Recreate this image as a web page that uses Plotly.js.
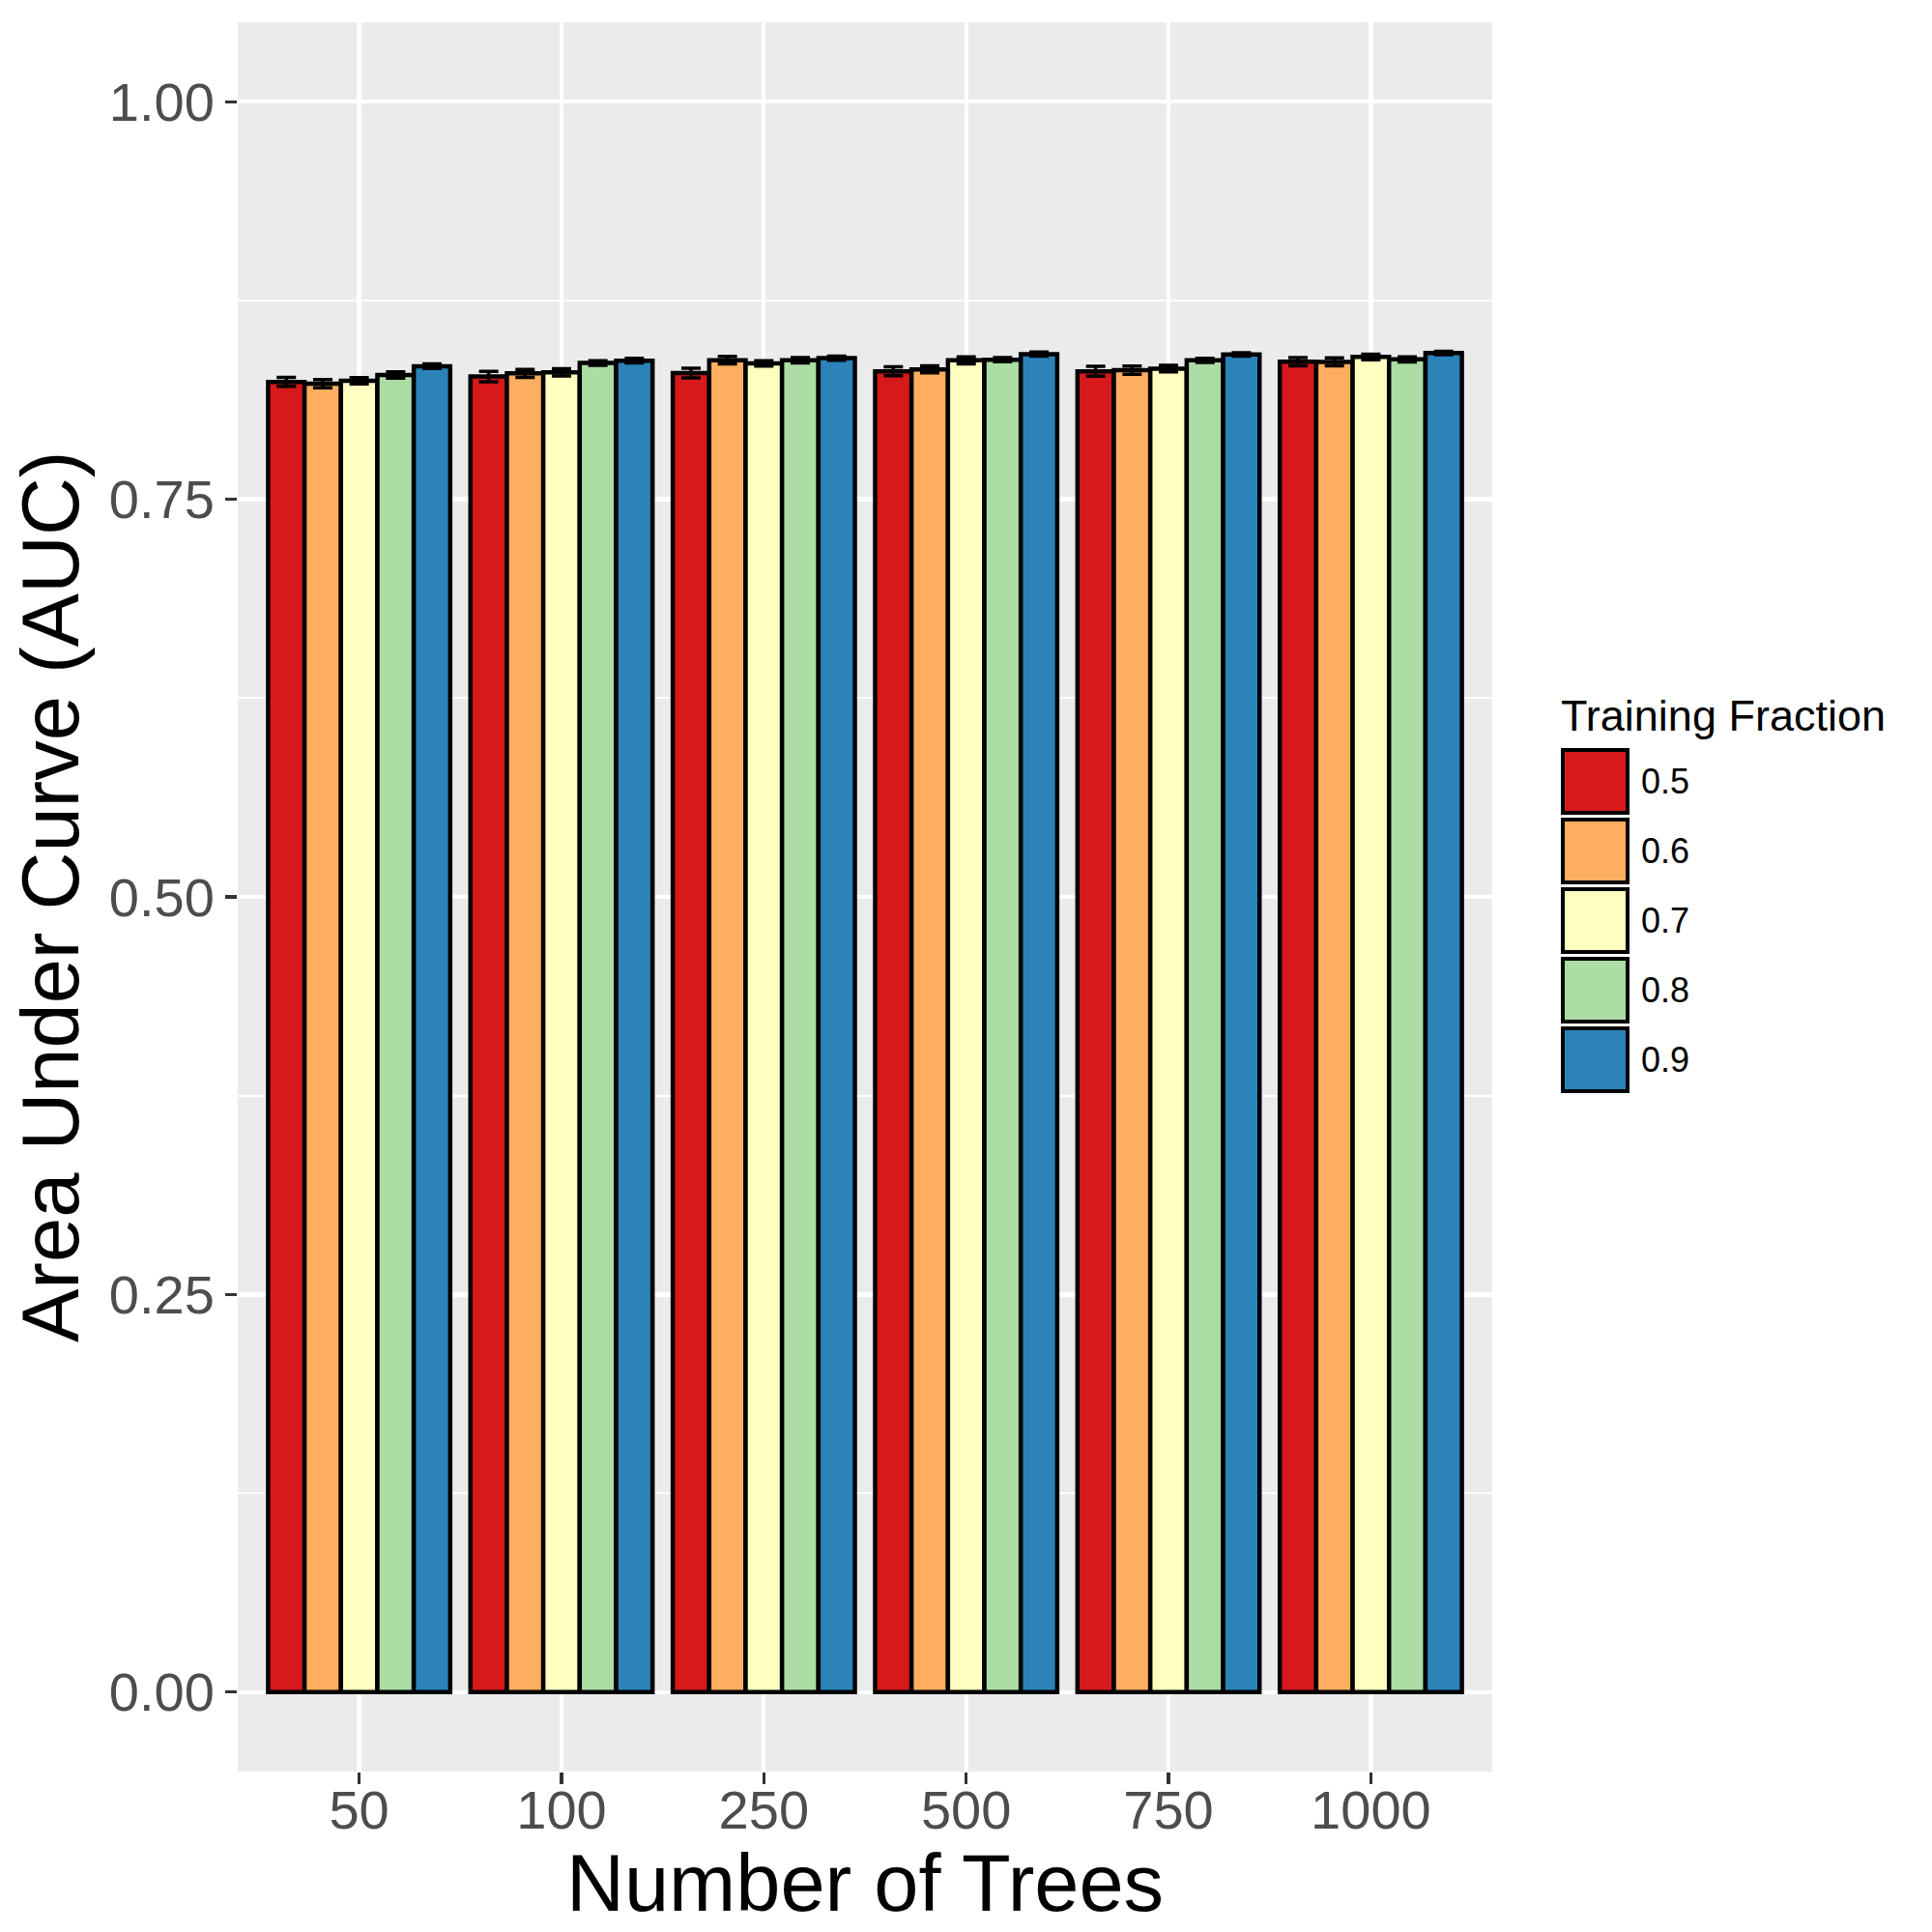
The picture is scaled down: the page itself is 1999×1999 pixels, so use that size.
<!DOCTYPE html>
<html>
<head>
<meta charset="utf-8">
<script src="https://cdn.plot.ly/plotly-3.0.1.min.js"></script>
<style>html,body{margin:0;padding:0;background:#fff;}</style>
</head>
<body>
<div id="chart" style="width:1999px;height:1999px;"></div>
<script>
// ---- data ----
var trees = ['50', '100', '250', '500', '750', '1000'];
var fractions = ['0.5', '0.6', '0.7', '0.8', '0.9'];
var colors = ['#D7191C', '#FDAE61', '#FFFFBF', '#ABDDA4', '#2B83BA'];

var auc_05 = [0.8238, 0.8272, 0.8294, 0.8305, 0.8305, 0.8365];
var auc_06 = [0.8227, 0.8292, 0.8375, 0.8317, 0.8312, 0.8364];
var auc_07 = [0.8245, 0.8298, 0.8355, 0.8374, 0.8322, 0.8395];
var auc_08 = [0.8282, 0.8357, 0.8374, 0.8378, 0.8374, 0.8380];
var auc_09 = [0.8337, 0.8372, 0.8388, 0.8413, 0.8411, 0.8420];

var se_05 = [0.0028, 0.0033, 0.0030, 0.0028, 0.0031, 0.0026];
var se_06 = [0.0026, 0.0025, 0.0024, 0.0022, 0.0026, 0.0025];
var se_07 = [0.0020, 0.0023, 0.0017, 0.0022, 0.0020, 0.0018];
var se_08 = [0.0020, 0.0015, 0.0017, 0.0013, 0.0013, 0.0016];
var se_09 = [0.0014, 0.0014, 0.0013, 0.0013, 0.0011, 0.0011];

var yTicks = [0, 0.25, 0.5, 0.75, 1.0];

// ---- layout geometry (pixels) ----
var W = 1999, H = 1999;
var ML = 246, MR = 455, MT = 23, MB = 166;
var PW = W - ML - MR, PH = H - MT - MB;
function px2x(px) { return (px - ML) / PW; }
function py2y(py) { return (H - MB - py) / PH; }

var aucs = [auc_05, auc_06, auc_07, auc_08, auc_09];
var ses = [se_05, se_06, se_07, se_08, se_09];

var traces = fractions.map(function (f, i) {
  return {
    type: 'bar',
    name: f,
    x: trees,
    y: aucs[i],
    marker: { color: colors[i], line: { color: '#000000', width: 4.5 } },
    error_y: { type: 'data', array: ses[i], visible: true, color: '#000000', thickness: 3.5, width: 10 },
    showlegend: false,
    hoverinfo: 'x+y+name'
  };
});

var FONT = 'Liberation Sans, Arial, sans-serif';
var shapes = [];
var annotations = [];

// legend (drawn manually to match ggplot key size)
var keyX0 = 1617, keyX1 = 1684, keyY0 = 776, keyH = 65, keyStep = 72;
fractions.forEach(function (f, i) {
  var y0 = keyY0 + i * keyStep;
  shapes.push({
    type: 'rect', xref: 'paper', yref: 'paper',
    x0: px2x(keyX0), x1: px2x(keyX1), y0: py2y(y0), y1: py2y(y0 + keyH),
    fillcolor: colors[i], line: { color: '#000000', width: 4 }
  });
  annotations.push({
    xref: 'paper', yref: 'paper', x: px2x(1696), y: py2y(y0 + keyH / 2),
    xanchor: 'left', yanchor: 'middle', showarrow: false, text: f,
    font: { family: FONT, size: 36, color: '#000000' }
  });
});
annotations.push({
  xref: 'paper', yref: 'paper', x: px2x(1613), y: py2y(741),
  xanchor: 'left', yanchor: 'middle', showarrow: false, text: 'Training Fraction',
  font: { family: FONT, size: 45, color: '#000000' }
});
// axis titles
annotations.push({
  xref: 'paper', yref: 'paper', x: 0.5, y: py2y(1948),
  xanchor: 'center', yanchor: 'middle', showarrow: false, text: 'Number of Trees',
  font: { family: FONT, size: 83, color: '#000000' }
});
annotations.push({
  xref: 'paper', yref: 'paper', x: px2x(52), y: 0.5,
  xanchor: 'center', yanchor: 'middle', showarrow: false, textangle: -90,
  text: 'Area Under Curve (AUC)',
  font: { family: FONT, size: 83, color: '#000000' }
});

var layout = {
  width: W, height: H,
  margin: { l: ML, r: MR, t: MT, b: MB, pad: 0 },
  paper_bgcolor: '#FFFFFF',
  plot_bgcolor: '#EBEBEB',
  barmode: 'group',
  bargap: 0.1,
  bargroupgap: 0,
  showlegend: false,
  font: { family: FONT },
  xaxis: {
    type: 'category',
    categoryorder: 'array', categoryarray: trees,
    range: [-0.6, trees.length - 0.4],
    showgrid: true, gridcolor: '#FFFFFF', gridwidth: 4.3,
    zeroline: false, showline: false,
    ticks: 'outside', ticklen: 12, tickwidth: 3.5, tickcolor: '#333333',
    ticklabelstandoff: -21,
    tickfont: { family: FONT, size: 56, color: '#4D4D4D' },
    fixedrange: true
  },
  yaxis: {
    range: [-0.05, 1.05],
    tickmode: 'array', tickvals: yTicks,
    ticktext: yTicks.map(function (v) { return v.toFixed(2); }),
    showgrid: true, gridcolor: '#FFFFFF', gridwidth: 4.3,
    minor: { tickmode: 'array', tickvals: [0.125, 0.375, 0.625, 0.875], showgrid: true, gridcolor: '#FFFFFF', gridwidth: 2.2, ticks: '' },
    zeroline: false, showline: false,
    ticks: 'outside', ticklen: 12, tickwidth: 3.5, tickcolor: '#333333',
    tickfont: { family: FONT, size: 56, color: '#4D4D4D' },
    fixedrange: true
  },
  shapes: shapes,
  annotations: annotations
};

Plotly.newPlot('chart', traces, layout, { displayModeBar: false, staticPlot: true });
</script>
</body>
</html>
